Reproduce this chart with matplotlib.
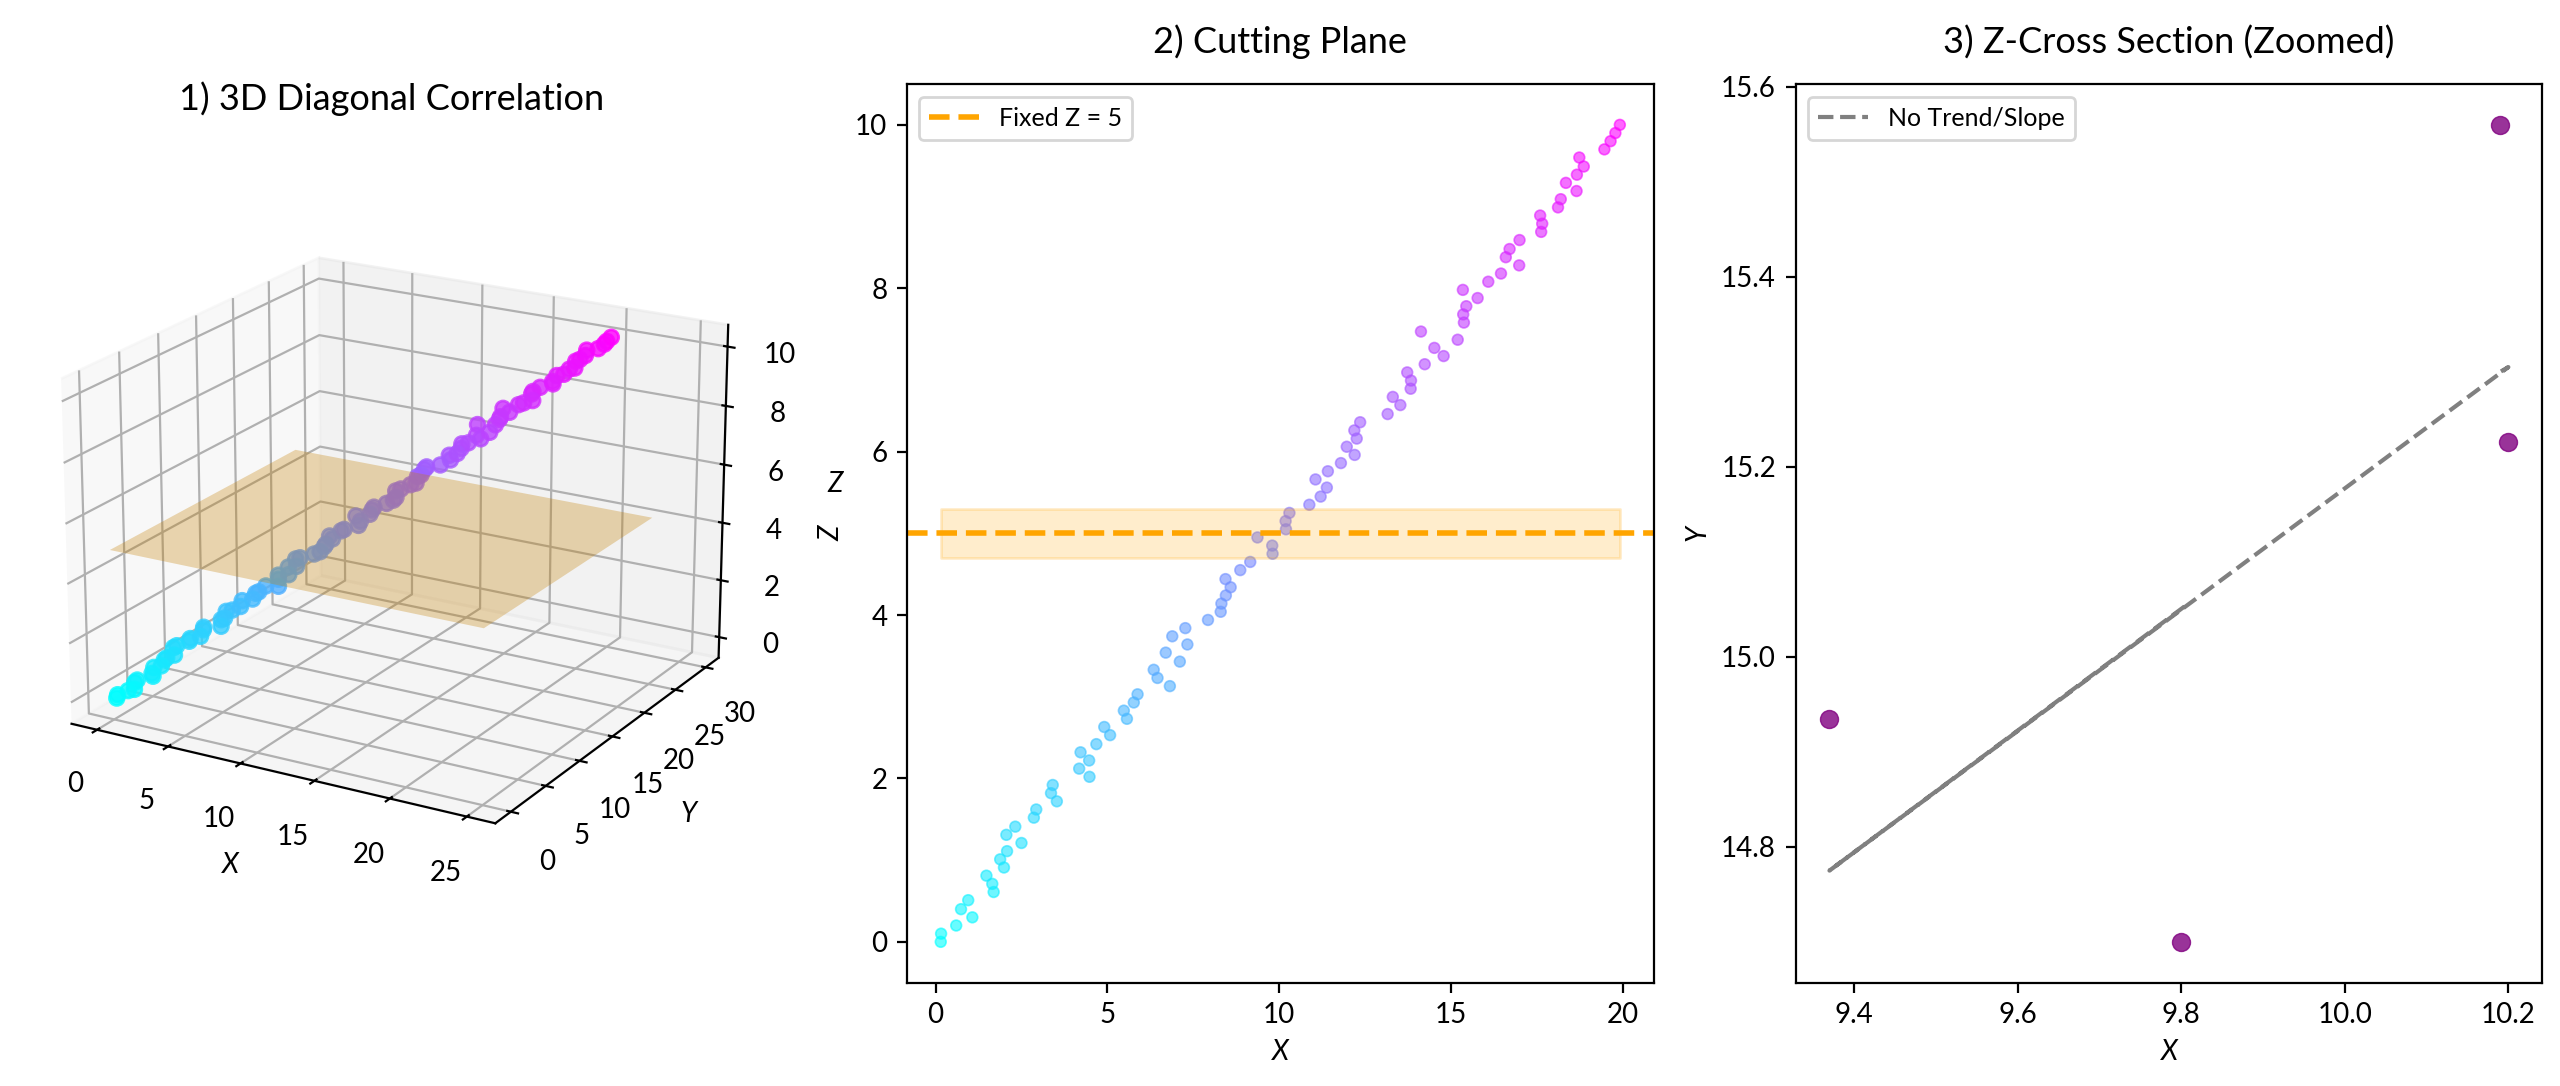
import numpy as np
import matplotlib
matplotlib.use("Agg")
import matplotlib.pyplot as plt

plt.rcParams['font.family'] = ['Lato', 'DejaVu Sans']

# values
x_vals = [0.15, 0.16, 0.60, 1.07, 0.74, 0.95, 1.69, 1.65, 1.48, 1.99,
          1.88, 2.08, 2.50, 2.06, 2.32, 2.86, 2.93, 3.53, 3.36, 3.41,
          4.48, 4.18, 4.47, 4.22, 4.68, 5.08, 4.91, 5.57, 5.48, 5.77,
          5.88, 6.82, 6.46, 6.35, 7.11, 6.70, 7.33, 6.89, 7.27, 7.93,
          8.30, 8.32, 8.45, 8.59, 8.44, 8.87, 9.16, 9.81, 9.80, 9.37,
          10.20, 10.19, 10.30, 10.88, 11.21, 11.39, 11.06, 11.42, 11.80, 12.20,
          11.97, 12.26, 12.19, 12.36, 13.16, 13.53, 13.31, 13.83, 13.84, 13.73,
          14.24, 14.79, 14.52, 15.20, 14.13, 15.38, 15.36, 15.45, 15.78, 15.35,
          16.09, 16.46, 16.99, 16.60, 16.71, 17.00, 17.63, 17.66, 17.60, 18.12,
          18.20, 18.66, 18.35, 18.67, 18.87, 18.74, 19.47, 19.65, 19.79, 19.92]

y_vals = [0.12, 0.22, 0.78, 0.75, 1.40, 1.35, 2.05, 2.00, 2.55, 2.60,
          3.20, 3.15, 3.40, 4.10, 4.05, 4.70, 4.70, 4.95, 5.65, 5.60,
          5.90, 6.50, 6.40, 7.10, 7.05, 7.40, 7.95, 8.10, 8.70, 8.55,
          9.30, 9.20, 9.90, 10.10, 10.05, 10.80, 10.70, 11.45, 11.30, 11.95,
          12.05, 12.60, 12.55, 13.20, 13.10, 13.85, 13.70, 14.40, 14.70, 14.94,
          15.23, 15.56, 15.60, 16.20, 16.50, 16.50, 17.15, 17.15, 17.75, 17.70,
          18.40, 18.30, 18.95, 18.90, 19.20, 19.90, 20.20, 20.25, 20.80, 21.15,
          21.00, 21.65, 21.60, 22.10, 22.60, 22.55, 23.20, 23.15, 23.80, 23.75,
          24.45, 24.40, 24.60, 25.30, 25.25, 25.70, 26.25, 26.10, 26.90, 26.80,
          27.45, 27.25, 28.10, 28.00, 28.40, 28.90, 29.00, 29.55, 29.60, 30.00]

z_vals = [0.00, 0.10, 0.20, 0.30, 0.40, 0.51, 0.61, 0.71, 0.81, 0.91,
          1.01, 1.11, 1.21, 1.31, 1.41, 1.52, 1.62, 1.72, 1.82, 1.92,
          2.02, 2.12, 2.22, 2.32, 2.42, 2.53, 2.63, 2.73, 2.83, 2.93,
          3.03, 3.13, 3.23, 3.33, 3.43, 3.54, 3.64, 3.74, 3.84, 3.94,
          4.04, 4.14, 4.24, 4.34, 4.44, 4.55, 4.65, 4.75, 4.85, 4.95,
          5.05, 5.15, 5.25, 5.35, 5.45, 5.56, 5.66, 5.76, 5.86, 5.96,
          6.06, 6.16, 6.26, 6.36, 6.46, 6.57, 6.67, 6.77, 6.87, 6.97,
          7.07, 7.17, 7.27, 7.37, 7.47, 7.58, 7.68, 7.78, 7.88, 7.98,
          8.08, 8.18, 8.28, 8.38, 8.48, 8.59, 8.69, 8.79, 8.89, 8.99,
          9.09, 9.19, 9.29, 9.39, 9.49, 9.60, 9.70, 9.80, 9.90, 10.00]

plane_x = [0, 25]
plane_y = [0, 25]
plane_z = 5
band_x = [0.16, 19.92]
band_z = [4.7, 5.3]

slice_x = [9.80, 9.37, 10.20, 10.19]
slice_y = [14.70, 14.935, 15.226, 15.56]
# the line doubles back on itself, that is why its lower part looks solid
trend_x = [9.804, 9.37, 10.20, 10.19]
trend_y = [15.053, 14.775, 15.305, 15.30]

W, H = 2560, 1086
fig = plt.figure(figsize=(12.8, 5.43), dpi=200)


def box(left, right, top, bottom):
    return [left / W, 1 - bottom / H, (right - left) / W, (bottom - top) / H]


# 1) 3D view
ax1 = fig.add_axes(box(18, 765, 84, 982.7), projection='3d', computed_zorder=False)
ax1.scatter(x_vals, y_vals, z_vals, c=z_vals, cmap='cool', s=28, alpha=0.8, zorder=1)
px, py = np.meshgrid(plane_x, plane_y)
ax1.plot_surface(px, py, np.full(px.shape, plane_z), color='orange', alpha=0.3, zorder=2)
ax1.set_xlabel('X', style='italic')
ax1.set_ylabel('Y', style='italic')
ax1.set_zlabel('Z', style='italic')
ax1.view_init(elev=20, azim=-60)
ax1.set_title('1) 3D Diagonal Correlation', fontsize=13, pad=18)

# 2) side view with the plane
ax2 = fig.add_axes(box(906.8, 1653.8, 84, 982.7))
ax2.scatter(x_vals, z_vals, c=z_vals, cmap='cool', s=15, alpha=0.6, linewidths=0.6)
ax2.axhline(plane_z, color='orange', linestyle='--', linewidth=2, label='Fixed Z = 5')
ax2.fill_between(band_x, band_z[0], band_z[1], color='orange', alpha=0.2)
ax2.set_xlabel('X', style='italic')
ax2.set_ylabel('Z', style='italic')
ax2.set_title('2) Cutting Plane', fontsize=13, pad=11)
ax2.legend(loc='upper left', fontsize=9)

# 3) slice
ax3 = fig.add_axes(box(1795.5, 2542.3, 84, 982.7))
ax3.scatter(slice_x, slice_y, color='purple', s=42, alpha=0.8, linewidths=0.5)
ax3.plot(trend_x, trend_y, color='gray', linestyle='--', linewidth=1.5, label='No Trend/Slope')
ax3.set_xlabel('X', style='italic')
ax3.set_ylabel('Y', style='italic')
ax3.set_title('3) Z-Cross Section (Zoomed)', fontsize=13, pad=11)
ax3.legend(loc='upper left', fontsize=9)

fig.savefig('out.png', dpi=200)
